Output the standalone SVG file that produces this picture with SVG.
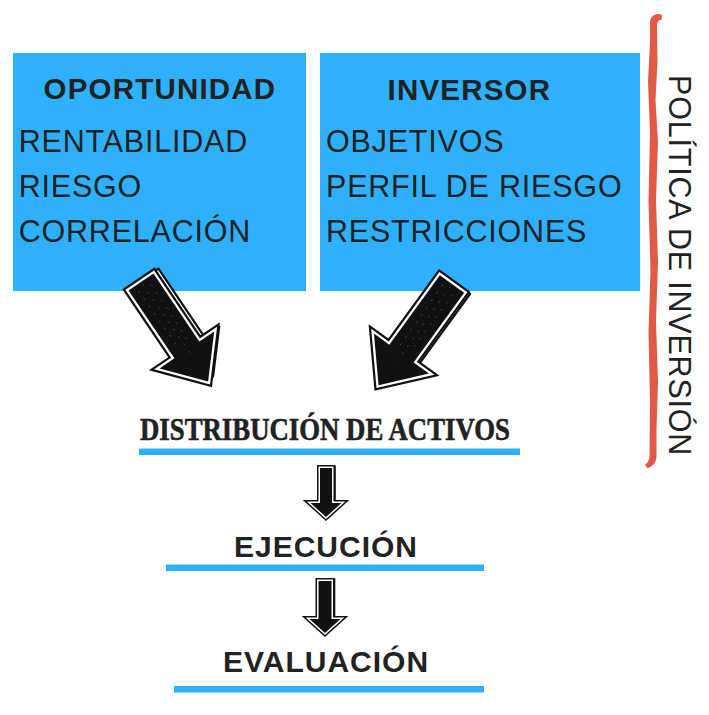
<svg xmlns="http://www.w3.org/2000/svg" width="709" height="715" viewBox="0 0 709 715">
<style>
.box{fill:#2fb0fd}
.bar{fill:#2fb0fd}
.t{font-family:"Liberation Sans",Arial,sans-serif;fill:#222}
.h{font-weight:bold;font-size:29.5px;letter-spacing:1.2px}
.b{font-size:30.5px;letter-spacing:0.8px}
.s{font-weight:bold;font-size:30px;letter-spacing:1px}
.serif{font-family:"Liberation Serif","Times New Roman",serif;font-weight:bold;font-size:31px;fill:#222;stroke:#222;stroke-width:0.6}
.ex{fill:#fff;stroke:#111;stroke-width:2.2;stroke-linejoin:round}
.ao{fill:#111;stroke:#111;stroke-width:9;stroke-linejoin:miter}
.aw{fill:none;stroke:#fff;stroke-width:4.6;stroke-linejoin:miter}
.af{fill:#111}
.sm .ao{stroke-width:6}
.sm .aw{stroke-width:3}
.sm .ex{stroke-width:1.6}
.tex{stroke:#fff;stroke-width:0.7;opacity:0.3;fill:none;stroke-dasharray:2 7}
</style>
<defs>
<path id="bigL" d="M-15,0 L15,0 L15,82 L33,82 L0,120 L-33,82 L-15,82 Z"/>
<path id="bigR" d="M-15,0 L15,0 L15,86 L34,86 L0,125 L-34,86 L-15,86 Z"/>
<path id="sm1" d="M-6,0 L6,0 L6,35 L15.5,35 L0,49 L-15.5,35 L-6,35 Z"/>
<path id="sm2" d="M-6.5,0 L6.5,0 L6.5,38 L15.5,38 L0,52 L-15.5,38 L-6.5,38 Z"/>
</defs>

<g id="node-oportunidad">
<rect class="box" x="13" y="53" width="293" height="238"/>
<text class="t h" x="43.5" y="99">OPORTUNIDAD</text>
<text class="t b" x="18.7" y="152">RENTABILIDAD</text>
<text class="t b" x="18.7" y="197">RIESGO</text>
<text class="t b" x="18.7" y="241.5">CORRELACIÓN</text>
</g>

<g id="node-inversor">
<rect class="box" x="320" y="53" width="320" height="238"/>
<text class="t h" x="387.5" y="100">INVERSOR</text>
<text class="t b" x="326" y="152">OBJETIVOS</text>
<text class="t b" x="326" y="197">PERFIL DE RIESGO</text>
<text class="t b" x="326" y="241.5">RESTRICCIONES</text>
</g>

<g id="node-politica">
<path fill="#e05a46" d="M650,23 C650,16 656,12 662,15 L661.5,20 C658.5,19.5 657,22 657,27 L657.5,62 L655.5,100 L658,142 L656,200 L658,262 L656,322 L658,382 L656.5,430 L656.5,456 C656.5,462 653,467 647,468 L645,464.5 C648.5,463 650,458 649.5,452 L650,402 L648.5,332 L650.5,270 L648.5,202 L650,132 L648,82 L650,42 Z"/>
<text class="t b" transform="translate(669,75) rotate(90)">POLÍTICA DE INVERSIÓN</text>
</g>

<g id="node-distribucion">
<text class="serif" x="140" y="439.5" textLength="370" lengthAdjust="spacingAndGlyphs">DISTRIBUCIÓN DE ACTIVOS</text>
<rect class="bar" x="139" y="448.5" width="381" height="6.5"/>
</g>

<g id="node-ejecucion">
<text class="t s" x="234" y="557">EJECUCIÓN</text>
<rect class="bar" x="166" y="564.5" width="318" height="6.5"/>
</g>

<g id="node-evaluacion">
<text class="t s" x="223" y="672">EVALUACIÓN</text>
<rect class="bar" x="174" y="686" width="310" height="6.5"/>
</g>

<g id="connectors">
<g id="arrow-left" transform="translate(141,282)">
<g transform="translate(5,-5) rotate(-34)"><use href="#bigL" class="ex"/></g>
<g transform="rotate(-34)"><use href="#bigL" class="ao"/><use href="#bigL" class="aw"/><use href="#bigL" class="af"/>
<path class="tex" d="M-7,6 L-6,78 M0,3 L1,90 M7,8 L6,76"/></g>
</g>
<g id="arrow-right" transform="translate(452,284)">
<g transform="translate(6,1) rotate(36)"><use href="#bigR" class="ex"/></g>
<g transform="rotate(36)"><use href="#bigR" class="ao"/><use href="#bigR" class="aw"/><use href="#bigR" class="af"/>
<path class="tex" d="M-7,6 L-6,82 M0,3 L1,94 M7,8 L6,80"/></g>
</g>
<g id="arrow-dist-ejec" class="sm" transform="translate(326,468)">
<g transform="translate(3,-2)"><use href="#sm1" class="ex"/></g>
<use href="#sm1" class="ao"/><use href="#sm1" class="aw"/><use href="#sm1" class="af"/>
</g>
<g id="arrow-ejec-eval" class="sm" transform="translate(325,581)">
<g transform="translate(3,-2)"><use href="#sm2" class="ex"/></g>
<use href="#sm2" class="ao"/><use href="#sm2" class="aw"/><use href="#sm2" class="af"/>
</g>
</g>
</svg>
